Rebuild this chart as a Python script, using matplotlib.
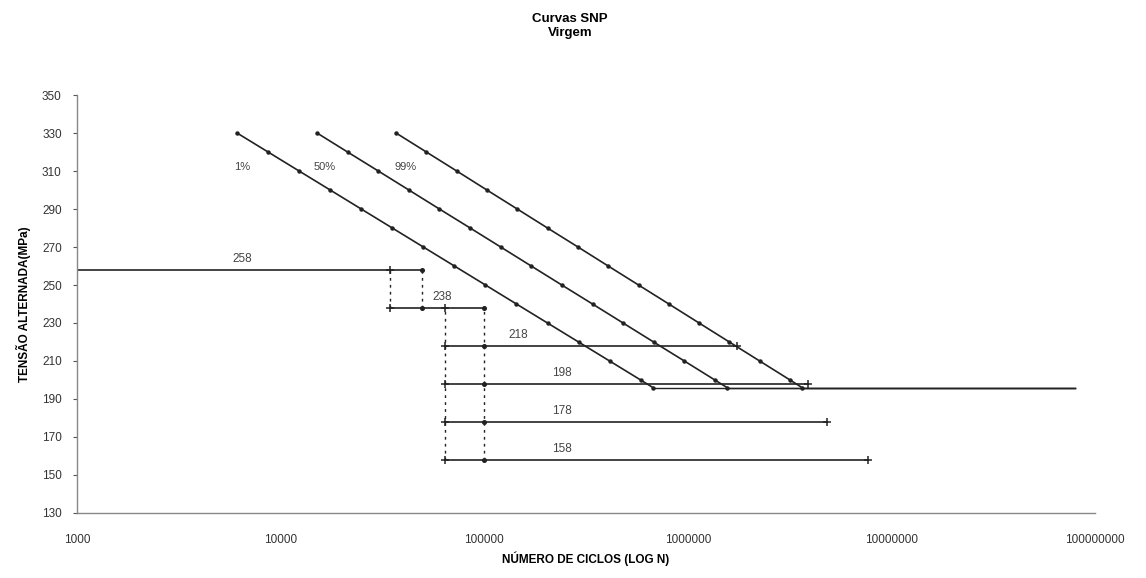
import numpy as np
import matplotlib
matplotlib.use("Agg")
import matplotlib.pyplot as plt

plt.rcParams['font.family'] = ['Liberation Sans', 'DejaVu Sans']

# S-N curves (stress in MPa, number of cycles)
stress = [330, 320, 310, 300, 290, 280, 270, 260, 250, 240, 230, 220, 210, 200, 196]
n_1 = [6110, 8680, 12330, 17520, 24890, 35360, 50230, 71360, 101400, 144000,
       204600, 290700, 413000, 586700, 674500]
n_50 = [15100, 21330, 30190, 42660, 60260, 85310, 120500, 170200, 240500,
        340400, 480800, 679200, 961600, 1358000, 1560000]
n_99 = [36900, 52000, 73300, 103100, 145300, 204600, 288800, 406400, 572800,
        807200, 1136000, 1600000, 2254000, 3177000, 3640000]
curve_labels = ['1%', '50%', '99%']
curve_label_n = [6500, 16500, 41000]
curve_label_s = 312
endurance = 196
endurance_end = 8.0e7

# staircase levels
levels = [258, 238, 218, 198, 178, 158]
lvl_start = [1000, 34400, 64100, 64100, 64100, 64100]
lvl_end = [49400, 100000, 1740000, 3900000, 4800000, 7700000]
lvl_label_n = [6500, 62000, 147000, 240000, 240000, 240000]
dash_n = [34400, 49400, 64100, 100000]
dash_top = [258, 258, 238, 238]
dash_bot = [238, 238, 158, 158]

fig = plt.figure(figsize=(11.46, 5.78), dpi=100)
ax = fig.add_axes([0.0672, 0.1125, 0.8883, 0.7231])

lc = '#222222'
for n in [n_1, n_50, n_99]:
    ax.plot(n, stress, color=lc, lw=1.2, marker='o', ms=2.2)
    ax.plot([n[-1], endurance_end], [endurance, endurance], color=lc, lw=1.0)

for lab, xn in zip(curve_labels, curve_label_n):
    ax.text(xn, curve_label_s, lab, fontsize=8, color='#444444', ha='center', va='center')

# dashed verticals
for xn, t, b in zip(dash_n, dash_top, dash_bot):
    ax.plot([xn, xn], [b, t], color=lc, lw=1.0, ls=(0, (2, 3)))

# level lines
for i, (lv, x0, x1) in enumerate(zip(levels, lvl_start, lvl_end)):
    ax.plot([x0, x1], [lv, lv], color=lc, lw=1.2)
    if i == 0:
        ax.plot([34400], [lv], marker='+', color=lc, ms=6, mew=1.1)
        ax.plot([x1], [lv], marker='o', color=lc, ms=2.6)
    elif i == 1:
        ax.plot([34400, 64100], [lv, lv], marker='+', ls='none', color=lc, ms=6, mew=1.1)
        ax.plot([49400, x1], [lv, lv], marker='o', ls='none', color=lc, ms=2.6)
    else:
        ax.plot([x0, x1], [lv, lv], marker='+', ls='none', color=lc, ms=6, mew=1.1)
        ax.plot([100000], [lv], marker='o', color=lc, ms=2.6)
    ax.text(lvl_label_n[i], lv + 2.5, str(lv), fontsize=8.5, color='#444444',
            ha='center', va='bottom')

ax.set_xscale('log')
ax.set_xlim(1000, 1e8)
ax.set_ylim(130, 350)
ax.set_yticks(np.arange(130, 351, 20))
ax.set_xticks([1e3, 1e4, 1e5, 1e6, 1e7, 1e8])
ax.set_xticklabels(['1000', '10000', '100000', '1000000', '10000000', '100000000'])
ax.xaxis.set_minor_locator(matplotlib.ticker.NullLocator())
ax.tick_params(axis='both', labelsize=8.5, colors='#555555', length=3, width=0.8)
ax.tick_params(axis='y', pad=8)
ax.tick_params(axis='x', pad=15, length=0)
for lab in ax.get_xticklabels() + ax.get_yticklabels():
    lab.set_color('#333333')

for s in ['top', 'right']:
    ax.spines[s].set_visible(False)
for s in ['left', 'bottom']:
    ax.spines[s].set_color('#888888')
    ax.spines[s].set_linewidth(1.0)

ax.set_xlabel('NÚMERO DE CICLOS (LOG N)', fontsize=8.5, fontweight='bold', labelpad=4)
ax.set_ylabel('TENSÃO ALTERNADA(MPa)', fontsize=8.5, fontweight='bold', labelpad=8)
fig.text(0.4975, 0.955, 'Curvas SNP\nVirgem', ha='center', va='center',
         fontsize=9.5, fontweight='bold', linespacing=1.2)

fig.savefig('out.png', dpi=100)
